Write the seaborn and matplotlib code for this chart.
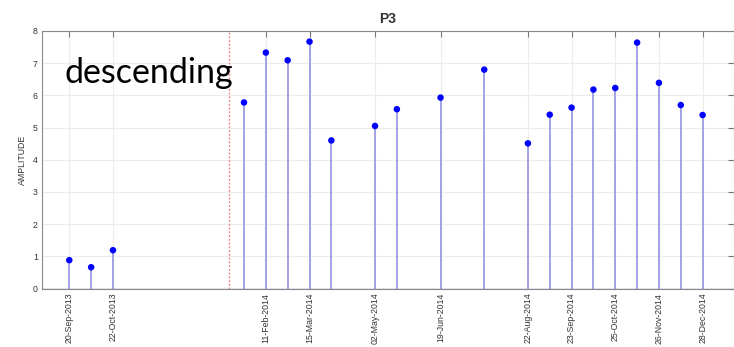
import matplotlib
matplotlib.use("Agg")
import matplotlib.pyplot as plt
import seaborn as sns
import pandas as pd

# ---- data ----
dates = ["2013-09-20", "2013-10-06", "2013-10-22", "2014-01-26", "2014-02-11",
         "2014-02-27", "2014-03-15", "2014-03-31", "2014-05-02", "2014-05-18",
         "2014-06-19", "2014-07-21", "2014-08-22", "2014-09-07", "2014-09-23",
         "2014-10-09", "2014-10-25", "2014-11-10", "2014-11-26", "2014-12-12",
         "2014-12-28"]
amplitude = [0.88, 0.66, 1.19, 5.78, 7.33, 7.09, 7.67, 4.60, 5.05, 5.57,
             5.93, 6.80, 4.51, 5.40, 5.62, 6.18, 6.23, 7.64, 6.39, 5.70, 5.39]
tick_dates = ["2013-09-20", "2013-10-22", "2014-02-11", "2014-03-15", "2014-05-02",
              "2014-06-19", "2014-08-22", "2014-09-23", "2014-10-25", "2014-11-26",
              "2014-12-28"]
tick_labels = ["20-Sep-2013", "22-Oct-2013", "11-Feb-2014", "15-Mar-2014", "02-May-2014",
               "19-Jun-2014", "22-Aug-2014", "23-Sep-2014", "25-Oct-2014", "26-Nov-2014",
               "28-Dec-2014"]
event_date = "2014-01-15"
x_range = ["2013-08-31", "2015-01-20"]
y_ticks = [0, 1, 2, 3, 4, 5, 6, 7, 8]
title = "P3"
ylabel = "AMPLITUDE"
annotation = "descending"

df = pd.DataFrame({"date": pd.to_datetime(dates), "amp": amplitude})

sns.set_style("whitegrid")
plt.rcParams["font.family"] = ["Liberation Sans", "DejaVu Sans"]

fig = plt.figure(figsize=(7.34, 3.47), dpi=100)
ax = fig.add_axes([42 / 734, 1 - 288.5 / 347, 692 / 734, (288.5 - 31) / 347])

# stems
ax.vlines(df["date"], 0, df["amp"], color="#9c9ce2", lw=1.3, zorder=2)
ax.axhline(0, color="#8f8fc8", lw=1.0, zorder=2)
sns.scatterplot(data=df, x="date", y="amp", ax=ax, color="#0000ff",
                s=22, edgecolor="none", zorder=3, legend=False)

ax.axvline(pd.Timestamp(event_date), color="#f07a7a", lw=0.9, ls=(0, (1.5, 1.5)), zorder=1)

ax.set_xlim(pd.Timestamp(x_range[0]), pd.Timestamp(x_range[1]))
ax.set_ylim(0, 8)
ax.set_yticks(y_ticks)
ax.set_xticks(pd.to_datetime(tick_dates))
ax.set_xticklabels(tick_labels, rotation=90, fontsize=6.3, color="#333333")
ax.tick_params(axis="y", labelsize=6.3, labelcolor="#333333")
ax.tick_params(direction="in", length=4, top=True, right=True, color="#777777", pad=3)

ax.grid(True, color="#ececec", lw=0.8)
for s in ["left", "bottom", "top", "right"]:
    ax.spines[s].set_color("#888888")
    ax.spines[s].set_linewidth(0.8)

ax.set_xlabel("")
ax.set_ylabel(ylabel, fontsize=6.3, color="#333333", labelpad=4)
ax.set_title(title, fontsize=10, fontweight="bold", color="#333333", pad=6)

ax.text(23 / 692, (288.5 - 83) / (288.5 - 31), annotation, transform=ax.transAxes,
        fontsize=24.5, family=["Lato", "DejaVu Sans"], color="black",
        ha="left", va="baseline")

fig.savefig("out.png", dpi=100)
